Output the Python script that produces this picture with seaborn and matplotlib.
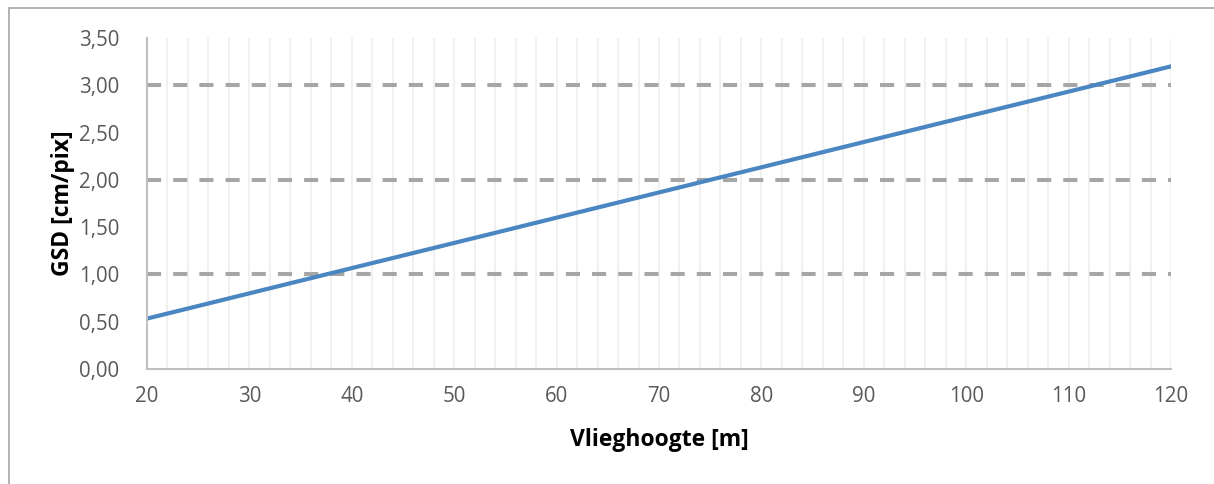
import matplotlib
matplotlib.use("Agg")
import matplotlib.pyplot as plt
import matplotlib.patches as mpatches
from matplotlib.ticker import MultipleLocator, FuncFormatter
import seaborn as sns
import pandas as pd

# Flight altitude (m) and resulting ground sampling distance (cm/pix)
altitude_m = [20, 30, 40, 50, 60, 70, 80, 90, 100, 110, 120]
gsd_cm_pix = [0.533, 0.800, 1.067, 1.333, 1.600, 1.867, 2.133, 2.400, 2.667, 2.933, 3.200]
# GSD reference levels drawn as dashed lines
gsd_levels = [1.0, 2.0, 3.0]

sns.set_theme(style="white")
plt.rcParams["font.family"] = ["Open Sans", "DejaVu Sans"]

fig = plt.figure(figsize=(12.14, 4.84), dpi=100)
ax = fig.add_axes([147 / 1214, 1 - 369 / 484, (1171 - 147) / 1214, (369 - 38) / 484])

df = pd.DataFrame({"Vlieghoogte": altitude_m, "GSD": gsd_cm_pix})

for lvl in gsd_levels:
    ax.axhline(lvl, color="#a6a6a6", lw=2.9, dashes=(3.5, 3.0), zorder=2)

sns.lineplot(data=df, x="Vlieghoogte", y="GSD", ax=ax, color="#4a86c2",
             lw=3.0, zorder=3)

ax.set_xlim(20, 120)
ax.set_ylim(0, 3.5)
ax.xaxis.set_major_locator(MultipleLocator(10))
ax.xaxis.set_minor_locator(MultipleLocator(2))
ax.yaxis.set_major_locator(MultipleLocator(0.5))
ax.yaxis.set_major_formatter(FuncFormatter(lambda v, p: f"{v:.2f}".replace(".", ",")))

ax.grid(False)
ax.grid(True, which="minor", axis="x", color="#ededed", lw=1.2, zorder=0)
ax.grid(True, which="major", axis="x", color="#ededed", lw=1.2, zorder=0)

for side in ("top", "right"):
    ax.spines[side].set_visible(False)
for side in ("left", "bottom"):
    ax.spines[side].set_color("#bfbfbf")
    ax.spines[side].set_linewidth(1.5)
    ax.spines[side].set_zorder(4)

ax.tick_params(axis="both", which="both", length=0, labelsize=14.8,
               labelcolor="#595959")
ax.tick_params(axis="x", pad=12)
ax.tick_params(axis="y", pad=20)

ax.set_xlabel("Vlieghoogte [m]", fontsize=16.5, fontweight="bold", color="black",
              labelpad=15)
ax.set_ylabel("GSD [cm/pix]", fontsize=16.5, fontweight="bold", color="black",
              labelpad=3)

# outer chart frame
frame = mpatches.Rectangle((9 / 1214, -0.1), 1.2, 1.1 - 8 / 484,
                           transform=fig.transFigure, fill=False,
                           edgecolor="#a6a6a6", lw=1.2, clip_on=False)
fig.patches.append(frame)

fig.savefig("out.png", dpi=100)
